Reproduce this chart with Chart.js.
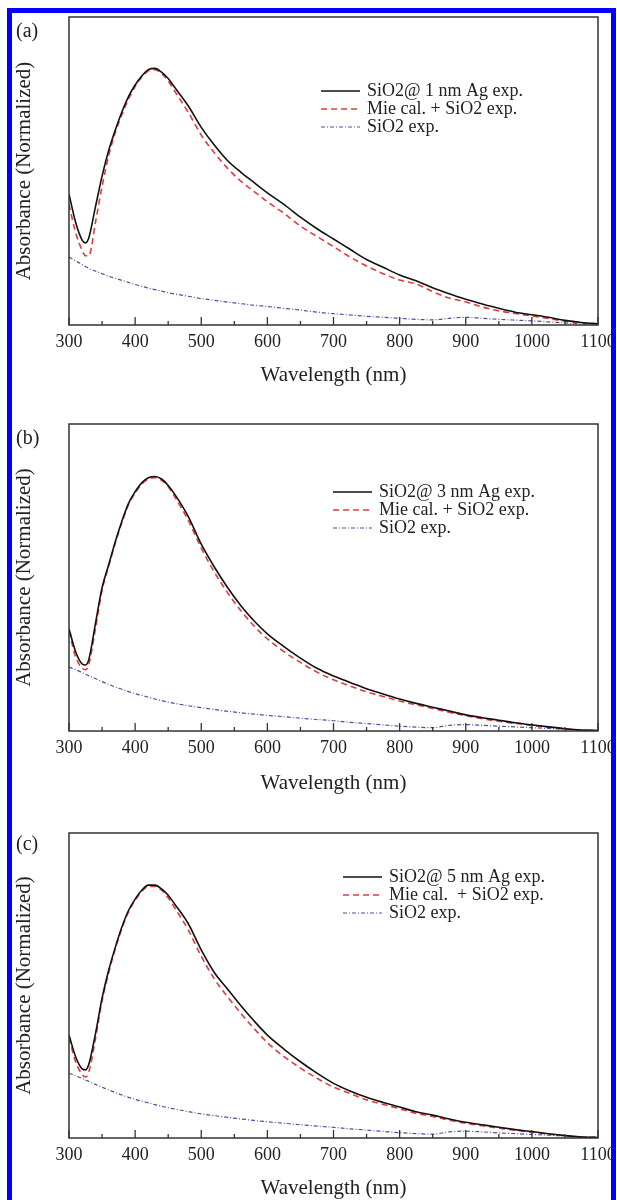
<!DOCTYPE html>
<html>
<head>
<meta charset="utf-8">
<script src="https://cdn.jsdelivr.net/npm/chart.js@4.4.1/dist/chart.umd.min.js"></script>
<style>
    html, body { margin: 0; padding: 0; background: #fff; }
    body { width: 617px; height: 1200px; overflow: hidden; position: relative; font-family: "Liberation Serif", "Times New Roman", serif; }
    .panel { position: absolute; left: 0; width: 617px; height: 410px; }
    .frame { position: absolute; left: 7px; top: 8px; width: 599px; height: 1300px; border: 5px solid #0000ff; border-bottom: none; pointer-events: none; z-index: 5; }
    .tag { position: absolute; left: 16px; font-size: 20px; line-height: 20px; color: #222; }
</style>
</head>
<body>
<div class="frame"></div>
<canvas id="chart-a" class="panel" width="617" height="410" style="top:0px"></canvas>
<canvas id="chart-b" class="panel" width="617" height="410" style="top:400px"></canvas>
<canvas id="chart-c" class="panel" width="617" height="410" style="top:800px"></canvas>
<div class="tag" style="top:20px">(a)</div>
<div class="tag" style="top:427px">(b)</div>
<div class="tag" style="top:833px">(c)</div>
<script>
// wavelengths (nm) shared by every curve
const wavelengths = [300, 310, 320, 325, 330, 340, 350, 360, 370, 380, 390, 400, 410, 420, 430, 440, 450, 460,
    480, 500, 520, 540, 560, 580, 600, 625, 650, 675, 700, 725, 750, 775, 800, 825, 850, 875, 900, 925, 950, 975,
    1000, 1025, 1050, 1075, 1100];
const xTicks = [300, 400, 500, 600, 700, 800, 900, 1000, 1100];

// (a) SiO2@ 1 nm Ag
const expA = [0.51, 0.40, 0.33, 0.32, 0.34, 0.46, 0.58, 0.68, 0.76, 0.83, 0.89, 0.935, 0.97, 0.995, 1.0, 0.985, 0.96, 0.925,
    0.855, 0.77, 0.70, 0.64, 0.595, 0.555, 0.515, 0.47, 0.42, 0.375, 0.335, 0.295, 0.255, 0.225, 0.195, 0.172, 0.145, 0.122,
    0.10, 0.082, 0.065, 0.05, 0.04, 0.03, 0.018, 0.01, 0.005];
const mieA = [0.47, 0.36, 0.29, 0.27, 0.27, 0.40, 0.54, 0.66, 0.75, 0.82, 0.88, 0.93, 0.965, 0.99, 0.995, 0.98, 0.95, 0.91,
    0.83, 0.74, 0.67, 0.61, 0.56, 0.52, 0.48, 0.435, 0.385, 0.345, 0.305, 0.265, 0.23, 0.20, 0.175, 0.16, 0.13, 0.105,
    0.09, 0.07, 0.055, 0.045, 0.035, 0.025, 0.015, 0.008, 0.003];
const silicaA = [0.265, 0.25, 0.235, 0.228, 0.22, 0.21, 0.20, 0.19, 0.182, 0.174, 0.166, 0.158, 0.151, 0.144, 0.138, 0.132, 0.126, 0.121,
    0.112, 0.103, 0.096, 0.089, 0.083, 0.077, 0.072, 0.065, 0.058, 0.05, 0.044, 0.039, 0.034, 0.03, 0.026, 0.022, 0.02, 0.026,
    0.03, 0.026, 0.022, 0.019, 0.016, 0.012, 0.008, 0.004, 0.002];

// (b) SiO2@ 3 nm Ag
const expB = [0.40, 0.31, 0.262, 0.258, 0.28, 0.42, 0.56, 0.65, 0.74, 0.82, 0.89, 0.935, 0.97, 0.99, 0.995, 0.985, 0.96, 0.925,
    0.84, 0.73, 0.64, 0.56, 0.49, 0.43, 0.38, 0.33, 0.285, 0.245, 0.215, 0.19, 0.165, 0.145, 0.125, 0.108, 0.093, 0.078,
    0.063, 0.052, 0.042, 0.032, 0.024, 0.016, 0.009, 0.004, 0.002];
const mieB = [0.39, 0.29, 0.245, 0.24, 0.26, 0.40, 0.55, 0.645, 0.735, 0.815, 0.885, 0.93, 0.965, 0.985, 0.99, 0.98, 0.955, 0.915,
    0.825, 0.715, 0.62, 0.54, 0.47, 0.41, 0.36, 0.31, 0.268, 0.23, 0.20, 0.176, 0.153, 0.135, 0.117, 0.102, 0.088, 0.073,
    0.06, 0.048, 0.038, 0.03, 0.022, 0.015, 0.008, 0.004, 0.002];
const silicaB = [0.25, 0.24, 0.228, 0.222, 0.216, 0.205, 0.193, 0.182, 0.172, 0.163, 0.154, 0.146, 0.139, 0.132, 0.125, 0.119, 0.113, 0.108,
    0.099, 0.091, 0.084, 0.077, 0.071, 0.066, 0.061, 0.056, 0.05, 0.045, 0.04, 0.034, 0.029, 0.024, 0.019, 0.015, 0.013, 0.022,
    0.025, 0.022, 0.019, 0.016, 0.013, 0.01, 0.007, 0.004, 0.002];

// (c) SiO2@ 5 nm Ag
const expC = [0.405, 0.32, 0.272, 0.268, 0.29, 0.41, 0.55, 0.66, 0.75, 0.83, 0.895, 0.94, 0.975, 0.995, 0.995, 0.98, 0.955, 0.92,
    0.845, 0.74, 0.65, 0.585, 0.52, 0.46, 0.405, 0.35, 0.30, 0.255, 0.215, 0.185, 0.16, 0.14, 0.122, 0.103, 0.09, 0.075,
    0.062, 0.052, 0.042, 0.033, 0.025, 0.017, 0.01, 0.004, 0.002];
const mieC = [0.395, 0.30, 0.25, 0.24, 0.26, 0.39, 0.54, 0.65, 0.745, 0.825, 0.89, 0.935, 0.97, 0.99, 0.99, 0.975, 0.945, 0.905,
    0.82, 0.715, 0.625, 0.555, 0.49, 0.43, 0.375, 0.32, 0.275, 0.235, 0.20, 0.175, 0.15, 0.132, 0.115, 0.097, 0.085, 0.07,
    0.058, 0.048, 0.039, 0.03, 0.023, 0.015, 0.009, 0.004, 0.002];
const silicaC = [0.255, 0.245, 0.234, 0.228, 0.222, 0.211, 0.20, 0.189, 0.179, 0.169, 0.16, 0.152, 0.145, 0.138, 0.131, 0.125, 0.119, 0.114,
    0.104, 0.095, 0.088, 0.081, 0.075, 0.069, 0.064, 0.058, 0.052, 0.047, 0.042, 0.036, 0.031, 0.026, 0.021, 0.017, 0.015, 0.024,
    0.027, 0.024, 0.02, 0.017, 0.014, 0.011, 0.008, 0.005, 0.003];

const labelsA = ['SiO2@ 1 nm Ag exp.', 'Mie cal. + SiO2 exp.', 'SiO2 exp.'];
const labelsB = ['SiO2@ 3 nm Ag exp.', 'Mie cal. + SiO2 exp.', 'SiO2 exp.'];
const labelsC = ['SiO2@ 5 nm Ag exp.', 'Mie cal.  + SiO2 exp.', 'SiO2 exp.'];

const FONT = '"Liberation Serif", "Times New Roman", serif';
const CANVAS_H = 410;

// frame box and inward tick marks on the bottom axis
const framePlugin = {
    id: 'frameTicks',
    afterDatasetsDraw(chart) {
        const { ctx, chartArea: a, scales: { x } } = chart;
        ctx.save();
        ctx.strokeStyle = '#333';
        ctx.lineWidth = 1.5;
        ctx.strokeRect(a.left, a.top, a.right - a.left, a.bottom - a.top);
        ctx.lineWidth = 1.3;
        ctx.beginPath();
        const vals = x.ticks.map(t => t.value);
        vals.forEach((v, i) => {
            const px = x.getPixelForValue(v);
            ctx.moveTo(px, a.bottom);
            ctx.lineTo(px, a.bottom - 8);
            if (i < vals.length - 1) {
                const mx = x.getPixelForValue((v + vals[i + 1]) / 2);
                ctx.moveTo(mx, a.bottom);
                ctx.lineTo(mx, a.bottom - 4);
            }
        });
        ctx.stroke();
        ctx.restore();
    }
};

const legendPlugin = {
    id: 'innerLegend',
    afterDraw(chart, args, opts) {
        const ctx = chart.ctx;
        ctx.save();
        ctx.font = '18px ' + FONT;
        ctx.textBaseline = 'middle';
        chart.data.datasets.forEach((ds, i) => {
            const y = opts.y + i * 18;
            ctx.strokeStyle = ds.borderColor;
            ctx.lineWidth = ds.borderWidth;
            ctx.setLineDash(ds.borderDash || []);
            ctx.beginPath();
            ctx.moveTo(opts.x, y);
            ctx.lineTo(opts.x + 39, y);
            ctx.stroke();
            ctx.setLineDash([]);
            ctx.fillStyle = '#222';
            ctx.fillText(ds.label, opts.x + 46, y);
        });
        ctx.restore();
    }
};

function toPoints(values) {
    return values.map((v, i) => ({ x: wavelengths[i], y: v }));
}

function makeChart(id, layout, labels, exp, mie, silica) {
    const remain = CANVAS_H - layout.padTop - layout.plotH;
    return new Chart(document.getElementById(id), {
        type: 'line',
        data: {
            datasets: [
                { label: labels[0], data: toPoints(exp), borderColor: '#111', borderWidth: 1.6 },
                { label: labels[1], data: toPoints(mie), borderColor: '#e03c3c', borderWidth: 1.6, borderDash: [6, 4] },
                { label: labels[2], data: toPoints(silica), borderColor: '#4f4fa0', borderWidth: 1.2, borderDash: [4, 2, 1, 2] }
            ]
        },
        options: {
            responsive: false,
            animation: false,
            layout: { padding: { top: layout.padTop, right: 19, bottom: 0, left: 0 } },
            elements: {
                point: { radius: 0 },
                line: { cubicInterpolationMode: 'monotone', fill: false }
            },
            plugins: {
                legend: { display: false },
                tooltip: { enabled: false },
                innerLegend: { x: layout.legendX, y: layout.legendY }
            },
            scales: {
                x: {
                    type: 'linear',
                    min: xTicks[0],
                    max: xTicks[xTicks.length - 1],
                    afterBuildTicks: s => { s.ticks = xTicks.map(v => ({ value: v })); },
                    ticks: {
                        padding: 6,
                        color: '#222',
                        font: { family: FONT, size: 18 },
                        callback: v => String(v)
                    },
                    grid: { display: false, drawTicks: false },
                    border: { display: false },
                    title: {
                        display: true,
                        text: 'Wavelength (nm)',
                        color: '#222',
                        font: { family: FONT, size: 21 },
                        padding: { top: 0, bottom: remain - layout.titleGap - 12.6 }
                    },
                    afterFit: s => { s.height = remain; s.paddingLeft = 0; s.paddingRight = 0; }
                },
                y: {
                    min: 0,
                    max: 1.2,
                    ticks: { display: false },
                    grid: { display: false, drawTicks: false },
                    border: { display: false },
                    title: {
                        display: true,
                        text: 'Absorbance (Normalized)',
                        color: '#222',
                        font: { family: FONT, size: 21 },
                        padding: { top: 12, bottom: 0 }
                    },
                    afterFit: s => { s.width = 69; }
                }
            }
        },
        plugins: [framePlugin, legendPlugin]
    });
}

makeChart('chart-a', { padTop: 17, plotH: 308, titleGap: 50, legendX: 321, legendY: 91 }, labelsA, expA, mieA, silicaA);
makeChart('chart-b', { padTop: 24, plotH: 307, titleGap: 52, legendX: 333, legendY: 92 }, labelsB, expB, mieB, silicaB);
makeChart('chart-c', { padTop: 33, plotH: 305, titleGap: 50, legendX: 343, legendY: 77 }, labelsC, expC, mieC, silicaC);
</script>
</body>
</html>
